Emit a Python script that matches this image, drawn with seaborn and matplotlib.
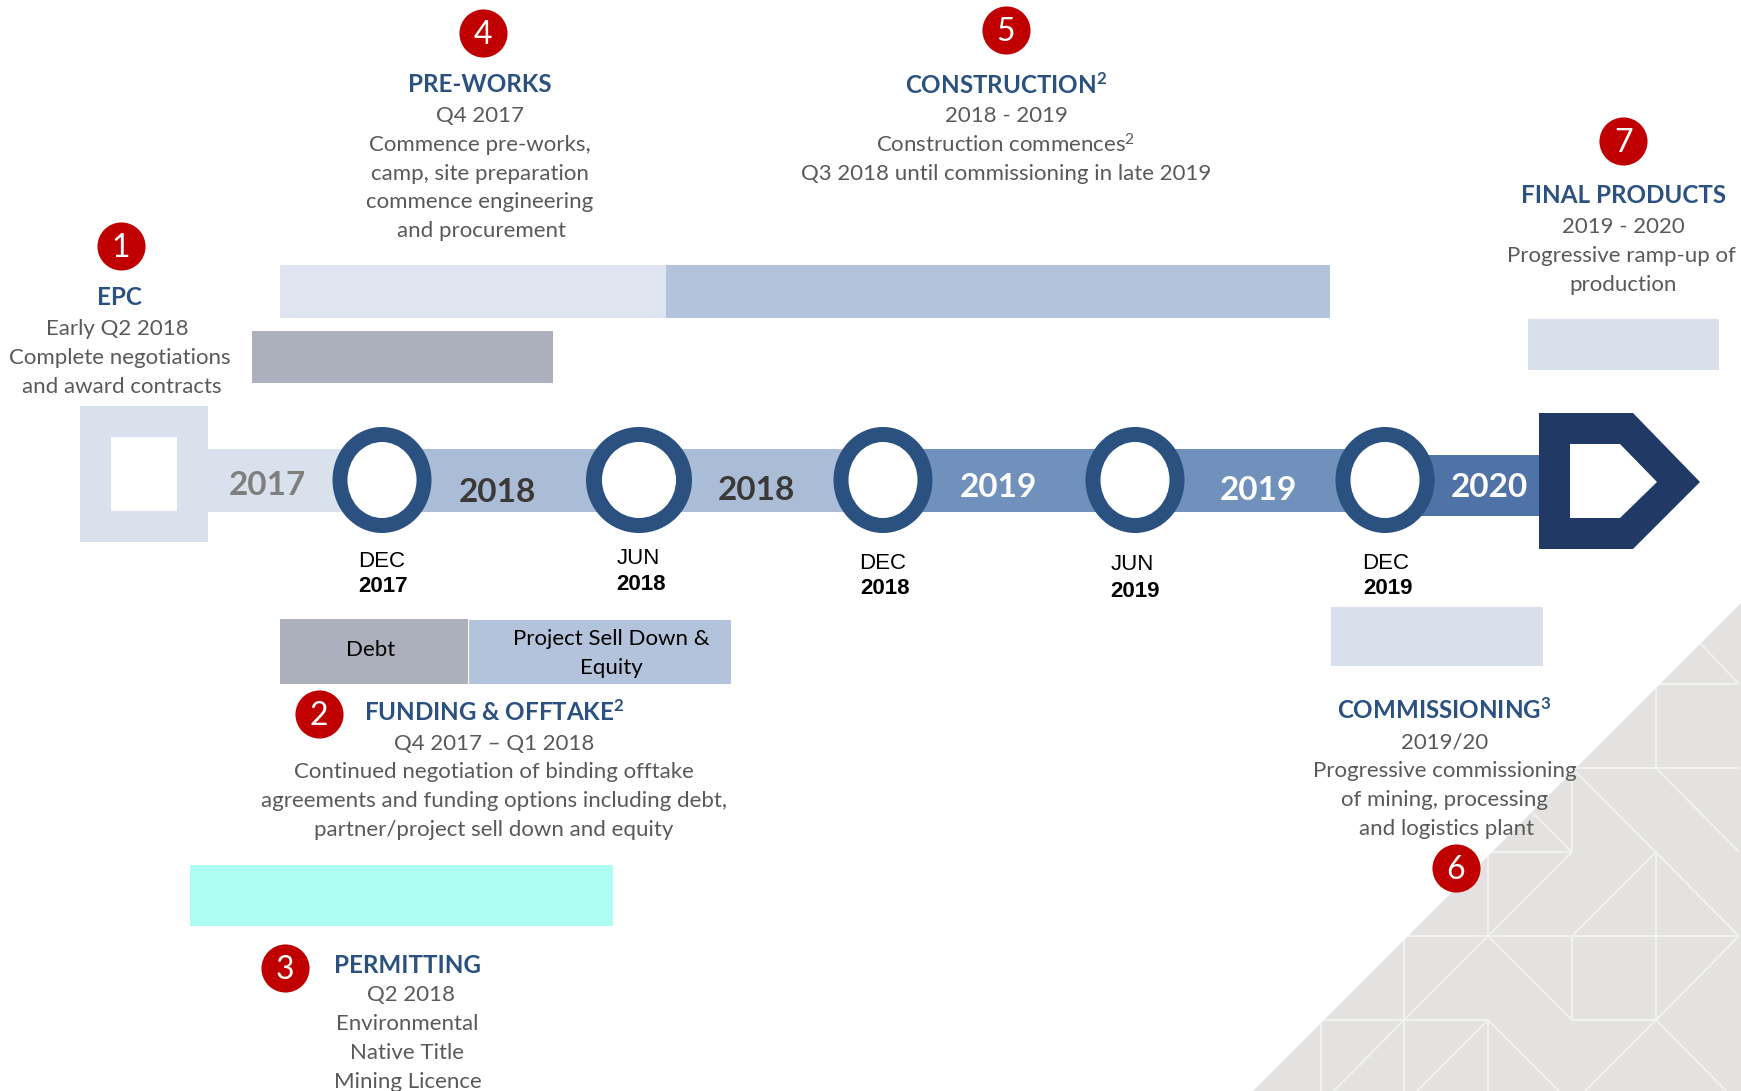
import matplotlib
matplotlib.use('Agg')
import matplotlib.pyplot as plt
from matplotlib.patches import Ellipse, Polygon
from matplotlib.collections import LineCollection
import seaborn as sns

sns.set_theme(style="white")
plt.rcParams['font.family'] = ['Lato', 'DejaVu Sans']
plt.rcParams['mathtext.fontset'] = 'custom'
plt.rcParams['mathtext.rm'] = 'Lato'
plt.rcParams['mathtext.bf'] = 'Lato:bold'
plt.rcParams['mathtext.default'] = 'regular'

# phases, values are positions on the timeline
phase_names = ['EPC', 'Pre-works', 'Construction', 'Final products', 'Debt', 'Equity', 'Commissioning', 'Permitting']
phase_start = [252, 280, 666, 1528, 280, 469, 1331, 190]
phase_end = [553, 666, 1330, 1719, 468, 731, 1543, 613]
phase_top = [331, 265, 265, 319, 619, 620, 607, 865]
phase_bottom = [383, 318, 318, 370, 684, 684, 666, 926]
phase_colors = ['#ABB0BC', '#DFE5F0', '#B3C3DB', '#D8E0EB', '#ABB0BC', '#B3C3DB', '#D8E0EB', '#ADFDF2']

# timeline
milestone_x = [382, 639, 883, 1135, 1385]
milestone_month = ['DEC', 'JUN', 'DEC', 'JUN', 'DEC']
milestone_year = ['2017', '2018', '2018', '2019', '2019']
ring_w = [99, 106, 99, 99, 99]
hole_w = [69, 74, 69, 69, 69]
band_start = [208, 382, 639, 883, 1135, 1385]
band_end = [345, 639, 883, 1135, 1385, 1539]
band_year = ['2017', '2018', '2018', '2019', '2019', '2020']
band_colors = ['#D9E1EC', '#ABBCD6', '#ABBCD6', '#7191BD', '#7191BD', '#4F73A6']
band_text = ['#7F7F7F', '#3B3838', '#3B3838', '#FFFFFF', '#FFFFFF', '#FFFFFF']
band_text_pos = [(241, 435), (448, 441), (681, 439), (899, 436), (1133, 439), (1341, 436)]
month_pos = [(344, 504), (575, 502), (795, 506), (1020, 507), (1248, 506)]
year_pos = [(345, 527), (577, 525), (797, 529), (1022, 531), (1250, 529)]

# numbered steps
step_labels = ['1', '2', '3', '4', '5', '6', '7']
step_x = [109, 287, 257, 435, 906, 1311, 1462]
step_y = [222, 643, 872, 30, 27, 782, 127]

titles = [('EPC', 108, 267), ('PRE-WORKS', 432, 75), (r'CONSTRUCTION$^{\mathbf{2}}$', 906, 75),
          ('FINAL PRODUCTS', 1462, 175), (r'FUNDING & OFFTAKE$^{\mathbf{2}}$', 445, 640),
          ('PERMITTING', 367, 868), (r'COMMISSIONING$^{\mathbf{3}}$', 1301, 638)]
body = [('Early Q2 2018', 106, 295), ('Complete negotiations', 108, 321), ('and award contracts', 110, 347),
        ('Q4 2017', 432, 103), ('Commence pre-works,', 432, 129), ('camp, site preparation', 432, 155),
        ('commence engineering', 432, 181), ('and procurement', 434, 207),
        ('2018 - 2019', 906, 103), (r'Construction commences$^{2}$', 906, 129),
        ('Q3 2018 until commissioning in late 2019', 906, 155),
        ('2019 - 2020', 1462, 203), ('Progressive ramp-up of', 1460, 229), ('production', 1462, 255),
        ('Q4 2017 – Q1 2018', 445, 669), ('Continued negotiation of binding offtake', 445, 694),
        ('agreements and funding options including debt,', 445, 720),
        ('partner/project sell down and equity', 445, 746),
        ('Q2 2018', 370, 895), ('Environmental', 367, 921), ('Native Title', 367, 947), ('Mining Licence', 367, 973),
        ('2019/20', 1301, 667), ('Progressive commissioning', 1301, 693),
        ('of mining, processing', 1301, 719), ('and logistics plant', 1303, 745)]
box_text = [('Debt', 334, 584), ('Project Sell Down &', 551, 574), ('Equity', 551, 600)]

S = 1741 / 1568  # text positions were read on the shrunk picture
DY = 1.5  # lato sits a bit high when centred

fig = plt.figure(figsize=(17.41, 10.91), dpi=100)
ax = fig.add_axes([0, 0, 1, 1])
ax.set_xlim(0, 1741)
ax.set_ylim(1091, 0)
ax.axis('off')

# grey corner with the line pattern
corner = Polygon([(1253, 1091), (1741, 603), (1741, 1091)], closed=True, fc='#E3E2E1', ec='none', zorder=1)
ax.add_patch(corner)
gx = [1321, 1404, 1488, 1572, 1656, 1739]
gy = [684, 768, 852, 936, 1020, 1104]
segs = [
    [(gx[4], gy[0]), (gx[5], gy[0])], [(1500, gy[1]), (gx[5], gy[1])], [(gx[2], gy[2]), (gx[3], gy[2])],
    [(gx[1], gy[3]), (gx[5], gy[3])], [(gx[0], gy[4]), (gx[2], gy[4])], [(gx[3], gy[4]), (gx[4], gy[4])],
    [(gx[4], gy[0]), (gx[4], gy[1])], [(gx[4], gy[2]), (gx[4], gy[4])], [(gx[3], gy[1]), (gx[3], gy[2])],
    [(gx[3], gy[3]), (gx[3], gy[4])], [(gx[2], gy[2]), (gx[2], gy[3])], [(gx[2], gy[4]), (gx[2], gy[5])],
    [(gx[1], gy[3]), (gx[1], gy[5])], [(gx[0], gy[4]), (gx[0], gy[5])],
    [(1700, 643), (gx[5], gy[0])], [(gx[3], gy[1]), (gx[5], gy[3])], [(gx[4], gy[1]), (gx[5], gy[2])],
    [(1533, 813), (gx[3], gy[2])], [(gx[3], gy[2]), (gx[2], gy[3])], [(gx[4], gy[2]), (gx[3], gy[3])],
    [(gx[2], gy[3]), (gx[1], gy[4])], [(gx[2], gy[3]), (gx[3], gy[4])], [(gx[5], gy[3]), (gx[4], gy[4])],
    [(gx[1], gy[4]), (gx[0], gy[5])], [(gx[2], gy[4]), (gx[1], gy[5])], [(gx[2], gy[4]), (gx[3], gy[5])],
    [(gx[4], gy[4]), (gx[3], gy[5])], [(gx[4], gy[4]), (gx[5], gy[5])],
]
lines = LineCollection(segs, colors='#F1F1F0', linewidths=1.5, zorder=2)
ax.add_collection(lines)
lines.set_clip_path(corner)

# phase bars
for i in range(len(phase_names)):
    ax.barh((phase_top[i] + phase_bottom[i]) / 2, phase_end[i] - phase_start[i], left=phase_start[i],
            height=phase_bottom[i] - phase_top[i], color=phase_colors[i], linewidth=0, zorder=3)

# timeline band
for i in range(len(band_year)):
    top, h = (455, 61) if band_year[i] == '2020' else (449, 63)
    ax.barh(top + h / 2, band_end[i] - band_start[i], left=band_start[i], height=h,
            color=band_colors[i], linewidth=0, zorder=3)
    ax.text(band_text_pos[i][0] * S, band_text_pos[i][1] * S + 3, band_year[i], color=band_text[i], fontsize=24,
            fontweight='bold', ha='center', va='center', zorder=6)

# start square and end arrow
ax.add_patch(Polygon([(80, 406), (208, 406), (208, 542), (80, 542)], fc='#D9E1EC', ec='none', zorder=4))
ax.add_patch(Polygon([(111, 437), (177, 437), (177, 511), (111, 511)], fc='white', ec='none', zorder=5))
ax.add_patch(Polygon([(1539, 413), (1633, 413), (1700, 482), (1633, 549), (1539, 549)], fc='#213965', ec='none', zorder=4))
ax.add_patch(Polygon([(1570, 444), (1620, 444), (1657, 482), (1620, 518), (1570, 518)], fc='white', ec='none', zorder=5))

for i in range(len(milestone_x)):
    ax.add_patch(Ellipse((milestone_x[i], 480), ring_w[i], 106, fc='#2A5180', ec='none', zorder=4))
    ax.add_patch(Ellipse((milestone_x[i], 480), hole_w[i], 76, fc='white', ec='none', zorder=5))
    ax.text(month_pos[i][0] * S, month_pos[i][1] * S + DY, milestone_month[i], color='black', fontsize=16,
            family='Liberation Sans', ha='center', va='center', zorder=6)
    ax.text(year_pos[i][0] * S, year_pos[i][1] * S + DY, milestone_year[i], color='black', fontsize=16,
            family='Liberation Sans', fontweight='bold', ha='center', va='center', zorder=6)

# numbered badges
sns.scatterplot(x=[v * S for v in step_x], y=[v * S for v in step_y], s=1200, color='#C00000', marker='o',
                linewidth=0, ax=ax, zorder=7, legend=False)
for i in range(len(step_labels)):
    ax.text(step_x[i] * S, step_y[i] * S + 2, step_labels[i], color='white', fontsize=23,
            ha='center', va='center', zorder=8)

for txt, x, y in titles:
    ax.text(x * S, y * S + DY, txt, color='#2A5180', fontsize=17.4, fontweight='bold', ha='center', va='center', zorder=6)
for txt, x, y in body:
    ax.text(x * S, y * S + DY, txt, color='#595959', fontsize=16, ha='center', va='center', zorder=6)
for txt, x, y in box_text:
    ax.text(x * S, y * S + DY, txt, color='black', fontsize=16, ha='center', va='center', zorder=6)

ax.set_xlim(0, 1741)
ax.set_ylim(1091, 0)
fig.savefig('out.png', dpi=100)
